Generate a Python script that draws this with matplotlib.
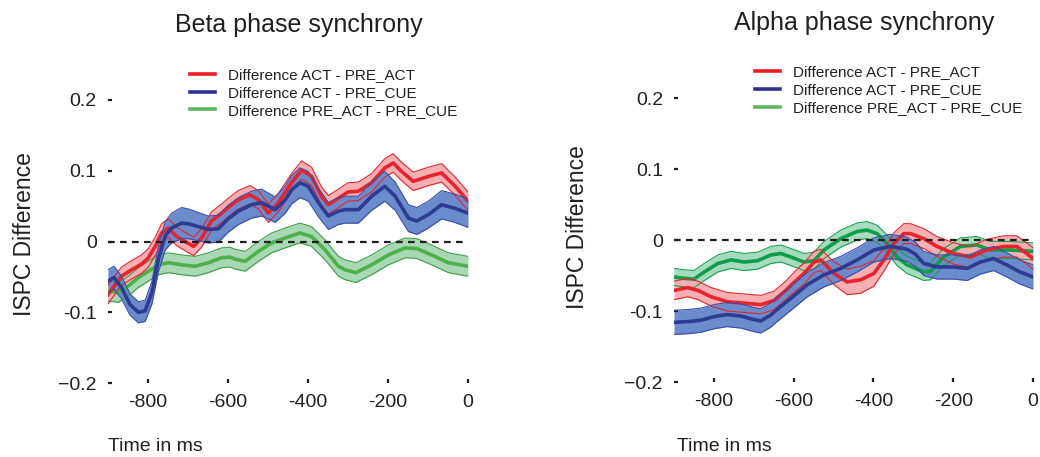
import numpy as np
import matplotlib
matplotlib.use('Agg')
import matplotlib.pyplot as plt
from matplotlib.lines import Line2D

plt.rcParams['font.family'] = ['Liberation Sans', 'DejaVu Sans']
plt.rcParams['text.color'] = '#231f20'

# ---- values: time (ms) vs ISPC difference ----
# Beta panel
beta_act_preact_t = [-900, -866, -841, -816, -799, -782, -766, -749, -728, -707, -686, -666, -641,
                     -616, -595, -574, -545, -524, -499, -474, -441, -416, -391, -366, -349, -324,
                     -300, -274, -241, -208, -187, -166, -137, -99, -66, -32, 0]
beta_act_preact = [-0.075, -0.049, -0.040, -0.032, -0.023, -0.007, 0.012, 0.019, 0.007, 0.000, -0.007,
                   0.005, 0.029, 0.040, 0.050, 0.059, 0.066, 0.059, 0.040, 0.055, 0.083, 0.101, 0.092,
                   0.064, 0.052, 0.061, 0.070, 0.071, 0.083, 0.104, 0.111, 0.099, 0.085, 0.092, 0.097,
                   0.078, 0.057]
beta_act_preact_err = 0.013

beta_act_precue_t = [-900, -885, -866, -845, -824, -807, -790, -774, -757, -741, -716, -699, -674,
                     -649, -624, -600, -574, -541, -516, -482, -457, -441, -420, -399, -374, -349,
                     -324, -307, -274, -241, -208, -182, -149, -128, -99, -66, -33, 0]
beta_act_precue = [-0.056, -0.051, -0.065, -0.089, -0.100, -0.098, -0.072, -0.025, 0.008, 0.019,
                   0.026, 0.025, 0.021, 0.017, 0.018, 0.032, 0.043, 0.052, 0.055, 0.045, 0.059, 0.073,
                   0.083, 0.078, 0.055, 0.036, 0.043, 0.045, 0.045, 0.064, 0.078, 0.064, 0.033, 0.029,
                   0.038, 0.052, 0.047, 0.040]
beta_act_precue_err = [0.016, 0.016, 0.016, 0.015, 0.015, 0.015, 0.016, 0.018, 0.020, 0.021,
                       0.022, 0.021, 0.020, 0.019, 0.019, 0.019, 0.019, 0.019, 0.019, 0.018,
                       0.019, 0.020, 0.021, 0.021, 0.020, 0.019, 0.019, 0.019, 0.019, 0.020,
                       0.021, 0.020, 0.019, 0.019, 0.019, 0.020, 0.020, 0.020]

beta_preact_precue_t = [-900, -874, -849, -824, -799, -774, -749, -716, -682, -649, -616, -595, -582,
                        -557, -524, -491, -457, -420, -391, -357, -324, -307, -280, -241, -199, -157,
                        -128, -91, -49, 0]
beta_preact_precue = [-0.070, -0.072, -0.063, -0.051, -0.042, -0.033, -0.030, -0.033, -0.035, -0.030,
                      -0.023, -0.022, -0.025, -0.028, -0.014, -0.002, 0.005, 0.012, 0.007, -0.012,
                      -0.035, -0.040, -0.044, -0.033, -0.019, -0.009, -0.010, -0.019, -0.030, -0.035]
beta_preact_precue_err = 0.014

# Alpha panel
alpha_act_preact_t = [-900, -866, -840, -807, -766, -724, -682, -649, -620, -600, -574, -549, -532,
                      -499, -466, -432, -399, -374, -349, -324, -307, -274, -241, -199, -157, -116,
                      -74, -41, -16, 0]
alpha_act_preact = [-0.071, -0.067, -0.071, -0.080, -0.087, -0.089, -0.091, -0.085, -0.071, -0.060,
                    -0.047, -0.031, -0.028, -0.047, -0.059, -0.056, -0.047, -0.028, -0.005, 0.009,
                    0.009, 0.002, -0.009, -0.019, -0.024, -0.014, -0.009, -0.009, -0.019, -0.026]
alpha_act_preact_err = [0.013, 0.013, 0.013, 0.013, 0.013, 0.013, 0.013, 0.013, 0.013, 0.014,
                        0.015, 0.015, 0.015, 0.016, 0.018, 0.019, 0.018, 0.016, 0.015, 0.014,
                        0.014, 0.014, 0.014, 0.015, 0.015, 0.015, 0.015, 0.015, 0.015, 0.015]

alpha_act_precue_t = [-900, -867, -833, -800, -767, -733, -700, -683, -658, -642, -607, -566, -524,
                      -482, -441, -399, -357, -316, -295, -274, -241, -199, -165, -132, -99, -66, -33, 0]
alpha_act_precue = [-0.116, -0.115, -0.113, -0.108, -0.105, -0.107, -0.112, -0.114, -0.106, -0.098,
                    -0.082, -0.063, -0.049, -0.040, -0.028, -0.014, -0.009, -0.013, -0.020, -0.033,
                    -0.038, -0.038, -0.040, -0.031, -0.026, -0.035, -0.045, -0.052]
alpha_act_precue_err = 0.017

alpha_preact_precue_t = [-900, -874, -850, -824, -790, -757, -724, -690, -657, -632, -607, -574, -549,
                         -524, -482, -441, -416, -391, -366, -341, -316, -295, -274, -257, -224, -182,
                         -141, -107, -60, 0]
alpha_preact_precue = [-0.052, -0.054, -0.055, -0.045, -0.033, -0.028, -0.031, -0.029, -0.021, -0.019,
                       -0.024, -0.031, -0.029, -0.014, 0.002, 0.012, 0.014, 0.009, -0.005, -0.024,
                       -0.035, -0.040, -0.045, -0.044, -0.024, -0.009, -0.007, -0.014, -0.014, -0.016]
alpha_preact_precue_err = 0.012

legend_labels = ['Difference ACT - PRE_ACT', 'Difference ACT - PRE_CUE', 'Difference PRE_ACT - PRE_CUE']
y_ticks = [-0.2, -0.1, 0, 0.1, 0.2]
y_tick_labels = ['\u22120.2', '-0.1', '0', '0.1', '0.2']
x_ticks = [-800, -600, -400, -200, 0]
x_tick_labels = ['-800', '-600', '-400', '-200', '0']

# ---- styles ----
RED = {'line': '#e8232b', 'fill': '#f6b0b3', 'edge': '#e8232b'}
BLUE = {'line': '#2d3c92', 'fill': '#6a8bcc', 'edge': '#3b4fa6'}
GREEN_BETA = {'line': '#4db04a', 'fill': '#a8d8b4', 'edge': '#3f9c46'}
GREEN_ALPHA = {'line': '#0c9e48', 'fill': '#a7dbbd', 'edge': '#17a24f'}
LEGEND_COLORS = ['#ed1c24', '#2e3192', '#5cb85c']
INK = '#231f20'


def draw_band(ax, t, mean, err, style):
    t = np.asarray(t, float)
    mean = np.asarray(mean, float)
    err = np.broadcast_to(np.asarray(err, float), mean.shape)
    ax.fill_between(t, mean - err, mean + err, color=style['fill'], lw=0)
    ax.plot(t, mean + err, color=style['edge'], lw=0.8)
    ax.plot(t, mean - err, color=style['edge'], lw=0.8)
    ax.plot(t, mean, color=style['line'], lw=2.6, solid_joinstyle='round')


def setup_axes(ax, title, legend_anchor):
    ax.set_xlim(-900, 0)
    ax.set_ylim(-0.2, 0.2)
    for s in ax.spines.values():
        s.set_visible(False)
    ax.axhline(0, color=INK, lw=1.6, ls=(0, (3.0, 2.4)), zorder=5)
    ax.set_yticks(y_ticks)
    ax.set_yticklabels(y_tick_labels)
    ax.set_xticks(x_ticks)
    ax.set_xticklabels(x_tick_labels)
    ax.tick_params(axis='both', direction='in', length=3, width=1.6, color=INK,
                   labelsize=14, labelcolor=INK)
    ax.tick_params(axis='y', pad=8)
    ax.tick_params(axis='x', pad=8)
    ax.text(0.53, 1.24, title, transform=ax.transAxes, ha='center', va='baseline', fontsize=18)
    handles = [Line2D([], [], color=c, lw=2.6) for c in LEGEND_COLORS]
    ax.legend(handles, legend_labels, loc='center left', bbox_to_anchor=legend_anchor,
              frameon=False, fontsize=11, handlelength=1.65, handletextpad=0.85,
              borderpad=0, borderaxespad=0, labelspacing=0.25)


fig = plt.figure(figsize=(10.4, 4.57), dpi=100)
ax_beta = fig.add_axes([0.1038, 0.1619, 0.3462, 0.6193])
ax_alpha = fig.add_axes([0.6481, 0.1641, 0.3452, 0.6214])

draw_band(ax_beta, beta_preact_precue_t, beta_preact_precue, beta_preact_precue_err, GREEN_BETA)
draw_band(ax_beta, beta_act_preact_t, beta_act_preact, beta_act_preact_err, RED)
draw_band(ax_beta, beta_act_precue_t, beta_act_precue, beta_act_precue_err, BLUE)
setup_axes(ax_beta, 'Beta phase synchrony', (0.228, 1.025))

draw_band(ax_alpha, alpha_preact_precue_t, alpha_preact_precue, alpha_preact_precue_err, GREEN_ALPHA)
draw_band(ax_alpha, alpha_act_preact_t, alpha_act_preact, alpha_act_preact_err, RED)
draw_band(ax_alpha, alpha_act_precue_t, alpha_act_precue, alpha_act_precue_err, BLUE)
setup_axes(ax_alpha, 'Alpha phase synchrony', (0.2256, 1.028))

fig.text(0.024, 0.488, 'ISPC Difference', rotation=90, ha='center', va='center', fontsize=16.5)
fig.text(0.555, 0.503, 'ISPC Difference', rotation=90, ha='center', va='center', fontsize=16.5)
fig.text(108 / 1040, 0.013, 'Time in ms', ha='left', va='baseline', fontsize=14)
fig.text(677 / 1040, 0.013, 'Time in ms', ha='left', va='baseline', fontsize=14)

fig.savefig('out.png', dpi=100)
